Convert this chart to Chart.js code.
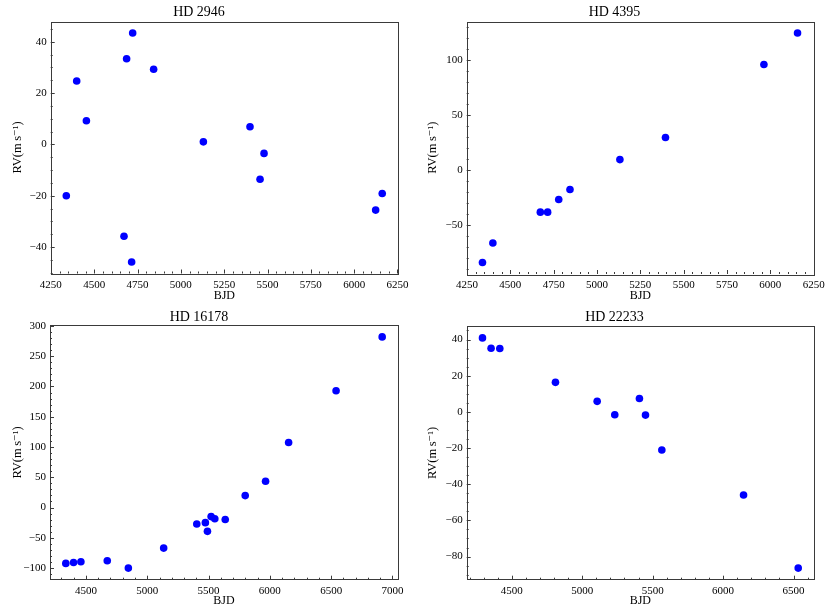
<!DOCTYPE html>
<html lang="en">
<head>
  <meta charset="UTF-8">
  <title>RV vs BJD</title>
  <script src="https://cdn.jsdelivr.net/npm/chart.js@4.4.0/dist/chart.umd.min.js"></script>
  <style>
    body { margin: 0; background: #fff; }
    .panel { position: absolute; }
  </style>
</head>
<body>
  <div class="panel" style="left:0;top:0"><canvas id="c1" width="415" height="307"></canvas></div>
  <div class="panel" style="left:415px;top:0"><canvas id="c2" width="416" height="307"></canvas></div>
  <div class="panel" style="left:0;top:307px"><canvas id="c3" width="415" height="307"></canvas></div>
  <div class="panel" style="left:415px;top:307px"><canvas id="c4" width="416" height="307"></canvas></div>
  <script>
    // HD 2946
    const hd2946Bjd = [4339, 4399, 4455, 4672, 4687, 4716, 4722, 4843, 5130, 5399, 5457, 5480, 6124, 6162];
    const hd2946Rv = [-20.0, 24.7, 9.2, -35.8, 33.4, -45.8, 43.4, 29.3, 1.0, 6.9, -13.6, -3.5, -25.6, -19.1];
    const hd2946XRange = [4249, 6253];
    const hd2946YRange = [-50.3, 47.9];
    const hd2946XTicks = [4250, 4500, 4750, 5000, 5250, 5500, 5750, 6000, 6250];
    const hd2946YTicks = [-40, -20, 0, 20, 40];

    // HD 4395
    const hd4395Bjd = [4339, 4399, 4673, 4715, 4779, 4844, 5132, 5395, 5963, 6157];
    const hd4395Rv = [-84.5, -66.7, -38.6, -38.6, -27.1, -18.0, 9.3, 29.5, 96.0, 124.7];
    const hd4395XRange = [4248, 6252];
    const hd4395YRange = [-95, 135.2];
    const hd4395XTicks = [4250, 4500, 4750, 5000, 5250, 5500, 5750, 6000, 6250];
    const hd4395YTicks = [-50, 0, 50, 100];

    // HD 16178
    const hd16178Bjd = [4336, 4399, 4459, 4674, 4846, 5134, 5404, 5474, 5491, 5521, 5551, 5636, 5799, 5965, 6153, 6540, 6916];
    const hd16178Rv = [-92.3, -90.7, -89.5, -87.9, -100, -67, -27.2, -25, -39.3, -15, -18.6, -19.7, 19.7, 43.4, 107.5, 193, 281.8];
    const hd16178XRange = [4207, 7045];
    const hd16178YRange = [-119.2, 301];
    const hd16178XTicks = [4500, 5000, 5500, 6000, 6500, 7000];
    const hd16178YTicks = [-100, -50, 0, 50, 100, 150, 200, 250, 300];

    // HD 22233
    const hd22233Bjd = [4292, 4353, 4415, 4810, 5106, 5231, 5406, 5449, 5565, 6145, 6533];
    const hd22233Rv = [40.9, 35.2, 35.0, 16.3, 5.8, -1.6, 7.4, -1.8, -21.1, -46.0, -86.4];
    const hd22233XRange = [4180, 6645];
    const hd22233YRange = [-92.8, 47.3];
    const hd22233XTicks = [4500, 5000, 5500, 6000, 6500];
    const hd22233YTicks = [-80, -60, -40, -20, 0, 20, 40];

    const SERIF = "'Liberation Serif', 'DejaVu Serif', serif";

    // frame on all four sides plus inward major/minor ticks (left and bottom only)
    const frameTicks = {
      id: 'frameTicks',
      afterDraw(chart, args, opts) {
        const { ctx, chartArea: a, scales: { x, y } } = chart;
        ctx.save();
        ctx.strokeStyle = '#3a3a3a';
        ctx.lineWidth = 1;
        ctx.beginPath();
        for (let v = Math.ceil(x.min / opts.xMinor) * opts.xMinor; v <= x.max; v += opts.xMinor) {
          const px = Math.round(x.getPixelForValue(v)) + 0.5;
          const len = v % opts.xMajor === 0 ? 4 : 2;
          ctx.moveTo(px, a.bottom);
          ctx.lineTo(px, a.bottom - len);
        }
        for (let v = Math.ceil(y.min / opts.yMinor) * opts.yMinor; v <= y.max; v += opts.yMinor) {
          const py = Math.round(y.getPixelForValue(v)) + 0.5;
          const len = Math.abs(v % opts.yMajor) < 1e-9 ? 4 : 2;
          ctx.moveTo(a.left, py);
          ctx.lineTo(a.left + len, py);
        }
        ctx.stroke();
        ctx.strokeRect(Math.round(a.left) + 0.5, Math.round(a.top) + 0.5,
                       Math.round(a.width), Math.round(a.height));
        ctx.restore();
      }
    };

    function minus(v) {
      return String(v).replace('-', '\u2212');
    }

    function makeChart(id, name, bjd, rv, xr, yr, xt, yt, xMinor, yMinor, box) {
      const ctx = document.getElementById(id).getContext('2d');
      return new Chart(ctx, {
        type: 'scatter',
        data: {
          datasets: [{
            label: name,
            data: bjd.map((b, i) => ({ x: b, y: rv[i] })),
            backgroundColor: '#0000ff',
            borderColor: '#0000ff',
            pointRadius: 3.8,
            pointHoverRadius: 3.8,
            borderWidth: 0
          }]
        },
        options: {
          responsive: false,
          animation: false,
          layout: { padding: { left: 0, right: 17, top: 0, bottom: 0 } },
          plugins: {
            legend: { display: false },
            tooltip: { enabled: false },
            title: {
              display: true,
              text: name,
              color: '#000',
              font: { family: SERIF, size: 14, weight: 'normal', lineHeight: 1.0 },
              padding: { top: box.titleTop, bottom: box.titleBottom }
            },
            frameTicks: { xMajor: xt[1] - xt[0], yMajor: yt[1] - yt[0], xMinor: xMinor, yMinor: yMinor }
          },
          scales: {
            x: {
              type: 'linear',
              min: xr[0],
              max: xr[1],
              grid: { display: false, drawTicks: false },
              border: { display: false },
              afterBuildTicks(scale) { scale.ticks = xt.map(v => ({ value: v })); },
              ticks: {
                autoSkip: false,
                maxRotation: 0,
                padding: 5,
                color: '#000',
                font: { family: SERIF, size: 11 },
                callback: v => minus(v)
              },
              title: {
                display: true,
                text: 'BJD',
                color: '#000',
                font: { family: SERIF, size: 12 },
                padding: { top: 0, bottom: box.xTitleBottom }
              },
              afterFit(scale) { scale.height = box.xHeight; }
            },
            y: {
              type: 'linear',
              min: yr[0],
              max: yr[1],
              grid: { display: false, drawTicks: false },
              border: { display: false },
              afterBuildTicks(scale) { scale.ticks = yt.map(v => ({ value: v })); },
              ticks: {
                autoSkip: false,
                padding: 4,
                color: '#000',
                font: { family: SERIF, size: 11 },
                callback: v => minus(v)
              },
              title: {
                display: true,
                text: 'RV(m\u2009s\u207B\u00B9)',
                color: '#000',
                font: { family: SERIF, size: 12.5 },
                padding: { top: 10.2, bottom: 0 }
              },
              afterFit(scale) { scale.width = box.yWidth; }
            }
          }
        },
        plugins: [frameTicks]
      });
    }

    const topBox = { titleTop: 5.2, titleBottom: 2.3, xHeight: 33.5, xTitleBottom: 4.0, yWidth: 50.7 };
    const topBoxR = { titleTop: 5.2, titleBottom: 2.3, xHeight: 33, xTitleBottom: 4.0, yWidth: 51.7 };
    const botBox = { titleTop: 2.9, titleBottom: 1.4, xHeight: 34.3, xTitleBottom: 5.7, yWidth: 50 };
    const botBoxR = { titleTop: 2.9, titleBottom: 2.4, xHeight: 34.3, xTitleBottom: 5.7, yWidth: 51.7 };

    makeChart('c1', 'HD 2946', hd2946Bjd, hd2946Rv, hd2946XRange, hd2946YRange, hd2946XTicks, hd2946YTicks, 50, 5, topBox);
    makeChart('c2', 'HD 4395', hd4395Bjd, hd4395Rv, hd4395XRange, hd4395YRange, hd4395XTicks, hd4395YTicks, 50, 10, topBoxR);
    makeChart('c3', 'HD 16178', hd16178Bjd, hd16178Rv, hd16178XRange, hd16178YRange, hd16178XTicks, hd16178YTicks, 100, 10, botBox);
    makeChart('c4', 'HD 22233', hd22233Bjd, hd22233Rv, hd22233XRange, hd22233YRange, hd22233XTicks, hd22233YTicks, 100, 5, botBoxR);
  </script>
</body>
</html>
